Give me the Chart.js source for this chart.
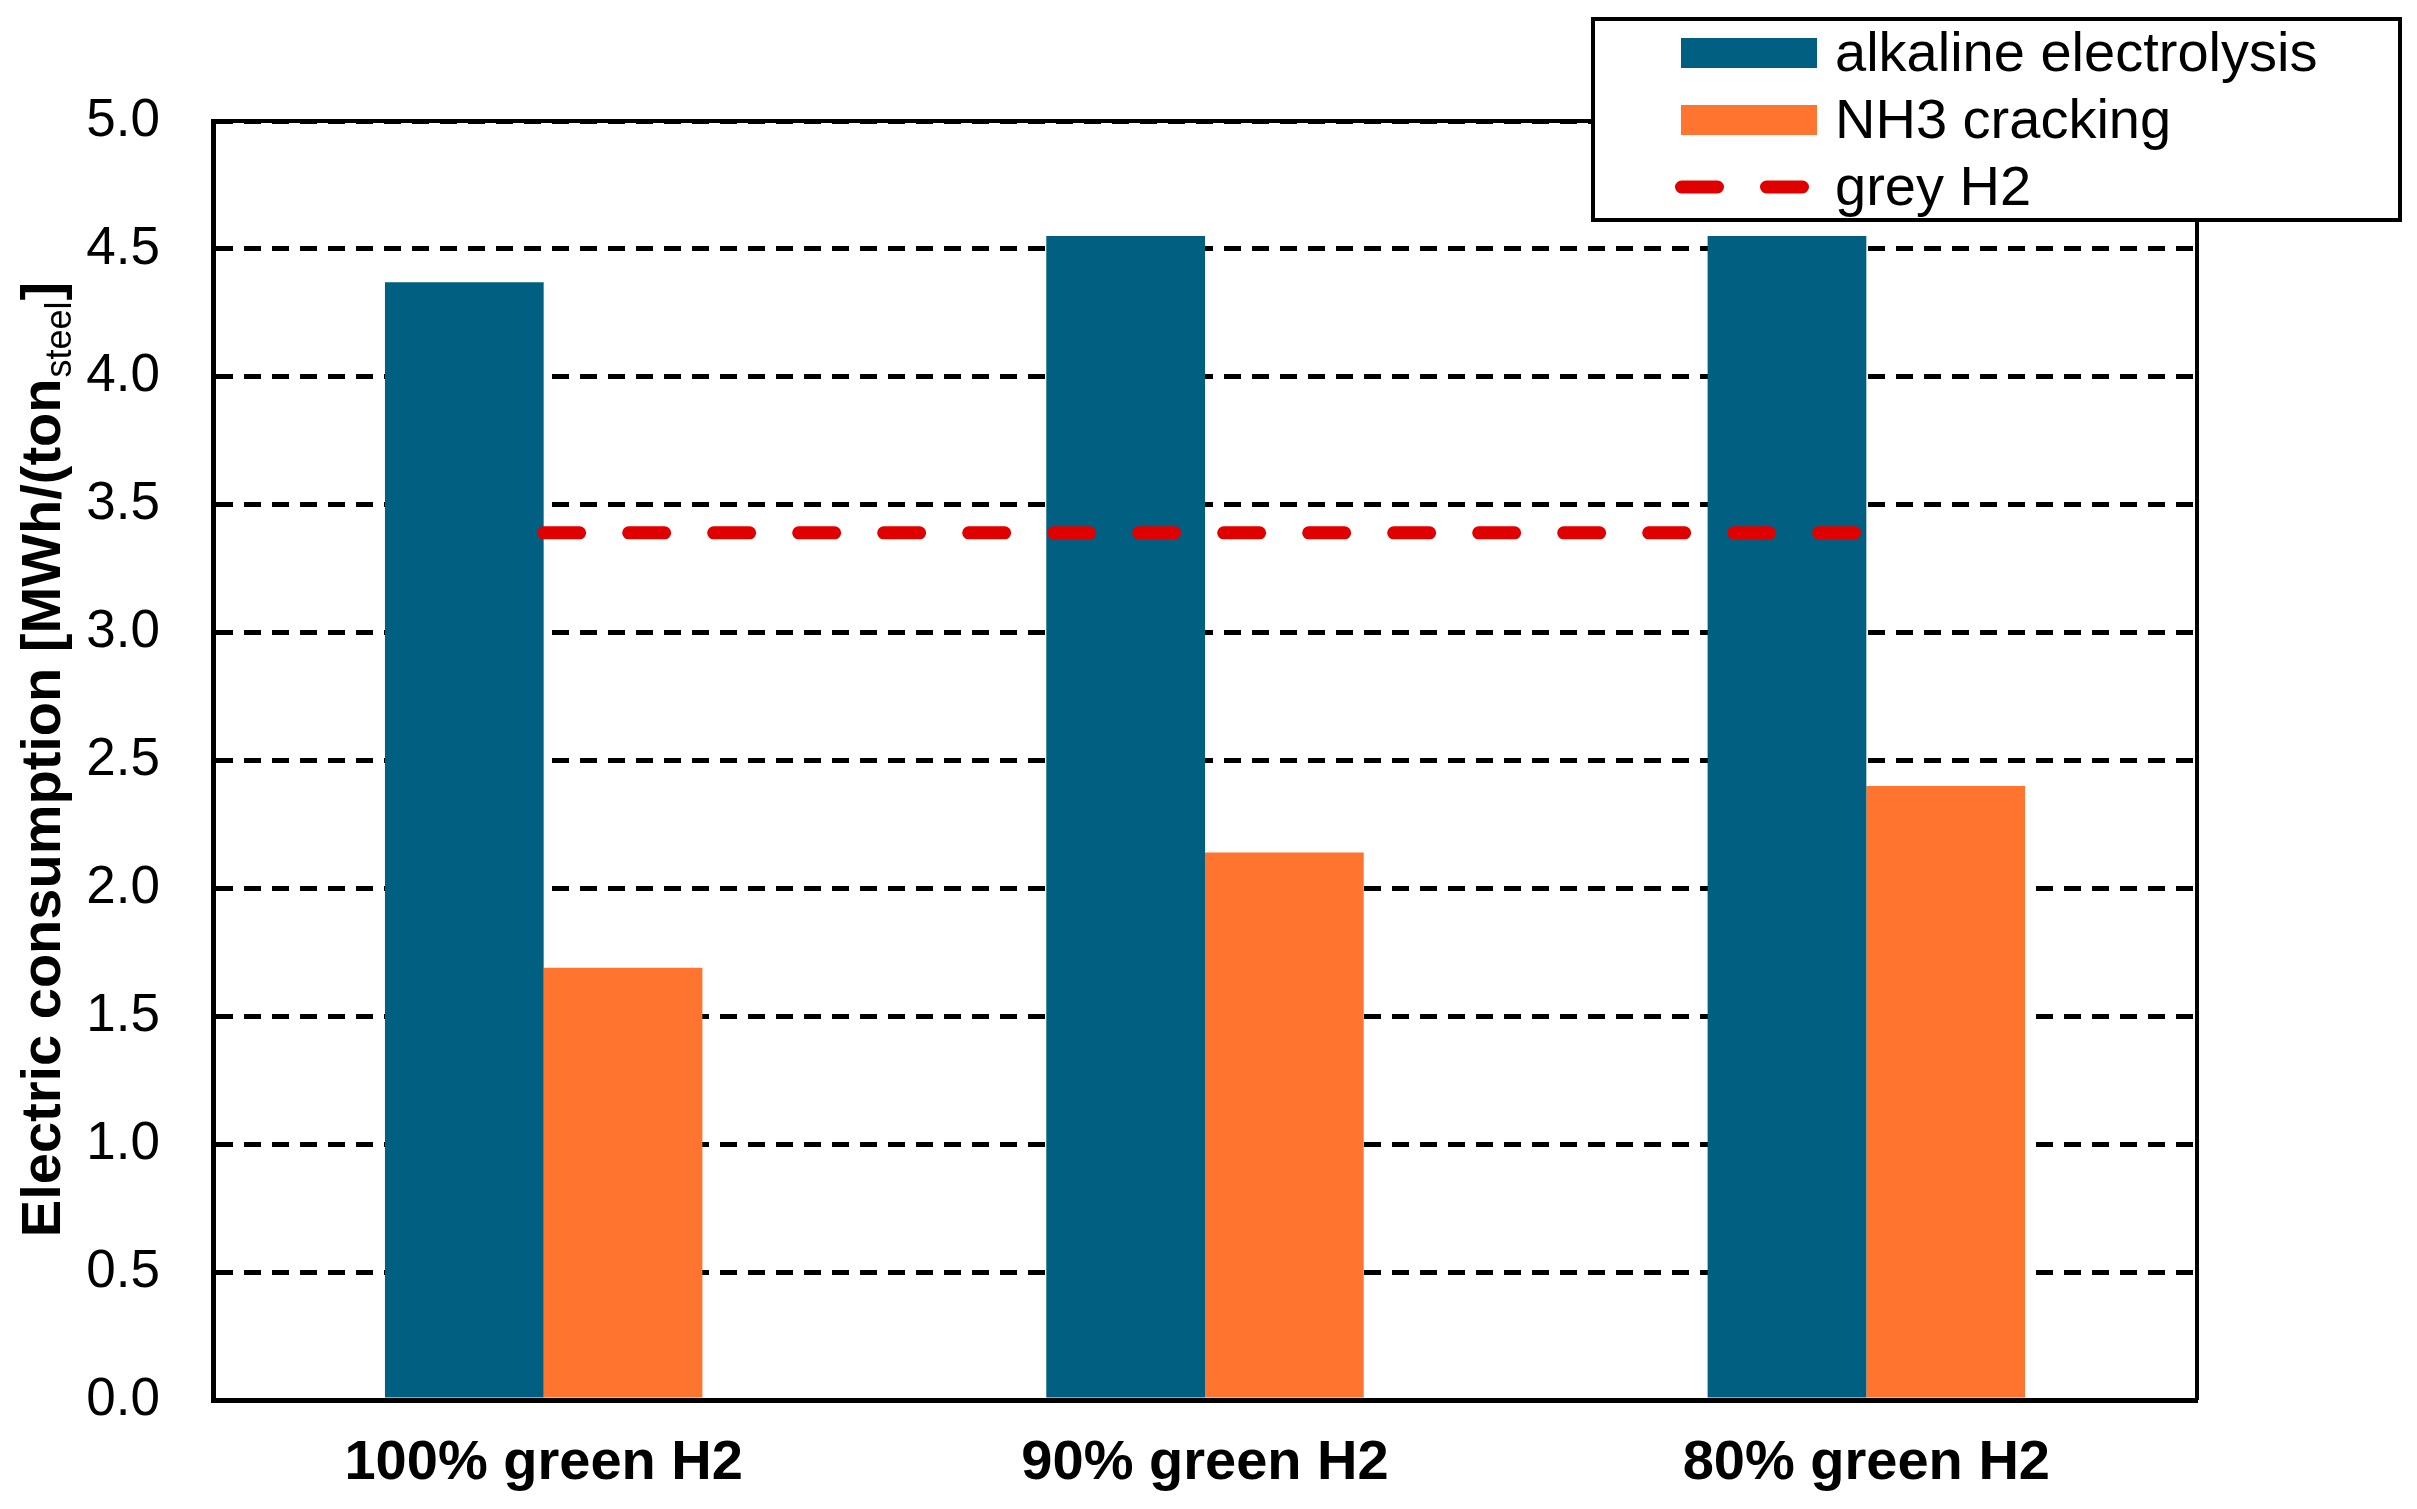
<!DOCTYPE html>
<html>
<head>
<meta charset="utf-8">
<title>Electric consumption</title>
<script src="https://cdn.jsdelivr.net/npm/chart.js"></script>
<style>
  html, body { margin: 0; padding: 0; background: #fff; }
  #wrap { width: 2417px; height: 1509px; position: relative; }
</style>
</head>
<body>
<div id="wrap"><canvas id="myChart"></canvas></div>
<script>
// data
var categories = ["100% green H2", "90% green H2", "80% green H2"];
var alkaline = [4.37, 4.55, 4.55];
var cracking = [1.69, 2.14, 2.40];
var greyH2 = [3.39, 3.39, 3.39];
var seriesNames = ["alkaline electrolysis", "NH3 cracking", "grey H2"];
var yTitleMain = "Electric consumption [MWh/(ton";
var yTitleSub = "steel";
var yTitleEnd = "]";

var FONT = "'Liberation Sans', Arial, sans-serif";
var BLUE = '#015f82', ORANGE = '#ff752f', RED = '#e10000';

// frame, rotated axis title with subscript, and the boxed legend
var extras = {
  id: 'extras',
  afterDatasetsDraw: function(chart) {
    var a = chart.chartArea, ctx = chart.ctx;
    ctx.save();
    ctx.strokeStyle = '#000';
    ctx.lineWidth = 4;
    ctx.beginPath();
    ctx.moveTo(a.left, a.top);
    ctx.lineTo(a.right, a.top);
    ctx.lineTo(a.right, a.bottom);
    ctx.stroke();
    ctx.restore();
  },
  afterDraw: function(chart) {
    var ctx = chart.ctx, a = chart.chartArea;
    // y title
    ctx.save();
    ctx.fillStyle = '#000';
    ctx.textBaseline = 'alphabetic';
    ctx.textAlign = 'left';
    var fMain = 'bold 56px ' + FONT, fSub = '36px ' + FONT;
    ctx.font = fMain;
    var w1 = ctx.measureText(yTitleMain).width;
    var w3 = ctx.measureText(yTitleEnd).width;
    ctx.font = fSub;
    var w2 = ctx.measureText(yTitleSub).width;
    var total = w1 + w2 + w3;
    var cy = (a.top + a.bottom) / 2;
    ctx.translate(60, cy + total / 2);
    ctx.rotate(-Math.PI / 2);
    ctx.font = fMain;
    ctx.fillText(yTitleMain, 0, 0);
    ctx.font = fSub;
    ctx.fillText(yTitleSub, w1 + 1, 11);
    ctx.font = fMain;
    ctx.fillText(yTitleEnd, w1 + w2 + 2, 0);
    ctx.restore();

    // legend
    ctx.save();
    ctx.fillStyle = '#fff';
    ctx.fillRect(1593, 19, 807, 201);
    ctx.strokeStyle = '#000';
    ctx.lineWidth = 4;
    ctx.strokeRect(1593, 19, 807, 201);
    var ds = chart.data.datasets;
    ctx.font = '56px ' + FONT;
    ctx.textBaseline = 'alphabetic';
    for (var i = 0; i < ds.length; i++) {
      var cyRow = 53 + i * 67;
      if (ds[i].type === 'line') {
        ctx.strokeStyle = ds[i].borderColor;
        ctx.lineWidth = ds[i].borderWidth;
        ctx.lineCap = 'round';
        ctx.setLineDash(ds[i].borderDash);
        ctx.beginPath();
        ctx.moveTo(1681.5, cyRow);
        ctx.lineTo(1817.5, cyRow);
        ctx.stroke();
        ctx.setLineDash([]);
      } else {
        ctx.fillStyle = ds[i].backgroundColor;
        ctx.fillRect(1681, cyRow - 15, 136, 30);
      }
      ctx.fillStyle = '#000';
      ctx.fillText(ds[i].label, 1835, cyRow + 18);
    }
    ctx.restore();
  }
};

var ctx = document.getElementById('myChart').getContext('2d');
var myChart = new Chart(ctx, {
  type: 'bar',
  data: {
    labels: categories,
    datasets: [
      {
        label: seriesNames[0],
        data: alkaline,
        backgroundColor: BLUE,
        categoryPercentage: 0.48,
        barPercentage: 1.0,
        order: 1
      },
      {
        label: seriesNames[1],
        data: cracking,
        backgroundColor: ORANGE,
        categoryPercentage: 0.48,
        barPercentage: 1.0,
        order: 1
      },
      {
        type: 'line',
        label: seriesNames[2],
        data: greyH2,
        borderColor: RED,
        borderWidth: 13,
        borderDash: [36, 49],
        borderCapStyle: 'round',
        pointRadius: 0,
        fill: false,
        order: 0
      }
    ]
  },
  options: {
    responsive: true,
    maintainAspectRatio: false,
    devicePixelRatio: 1,
    animation: false,
    layout: { padding: { left: 0, top: 121, right: 220, bottom: 0 } },
    plugins: {
      legend: { display: false },
      tooltip: { enabled: false }
    },
    scales: {
      x: {
        grid: { display: false, drawTicks: false },
        border: { display: true, color: '#000', width: 5, z: 1 },
        ticks: {
          color: '#000',
          padding: 30,
          font: { family: FONT, size: 56, weight: 'bold' }
        },
        afterFit: function(scale) {
          scale.height = 109;
          scale.paddingLeft = 0;
          scale.paddingRight = 0;
        }
      },
      y: {
        min: 0,
        max: 5,
        grid: { color: '#000', lineWidth: 5, drawTicks: false },
        border: { display: true, color: '#000', width: 5, dash: [17, 11], z: 1 },
        ticks: {
          stepSize: 0.5,
          color: '#000',
          padding: 53,
          font: { family: FONT, size: 53 },
          callback: function(v) { return v.toFixed(1); }
        },
        afterFit: function(scale) {
          scale.width = 213;
          scale.paddingTop = 0;
          scale.paddingBottom = 0;
        }
      }
    }
  },
  plugins: [extras]
});
</script>
</body>
</html>
